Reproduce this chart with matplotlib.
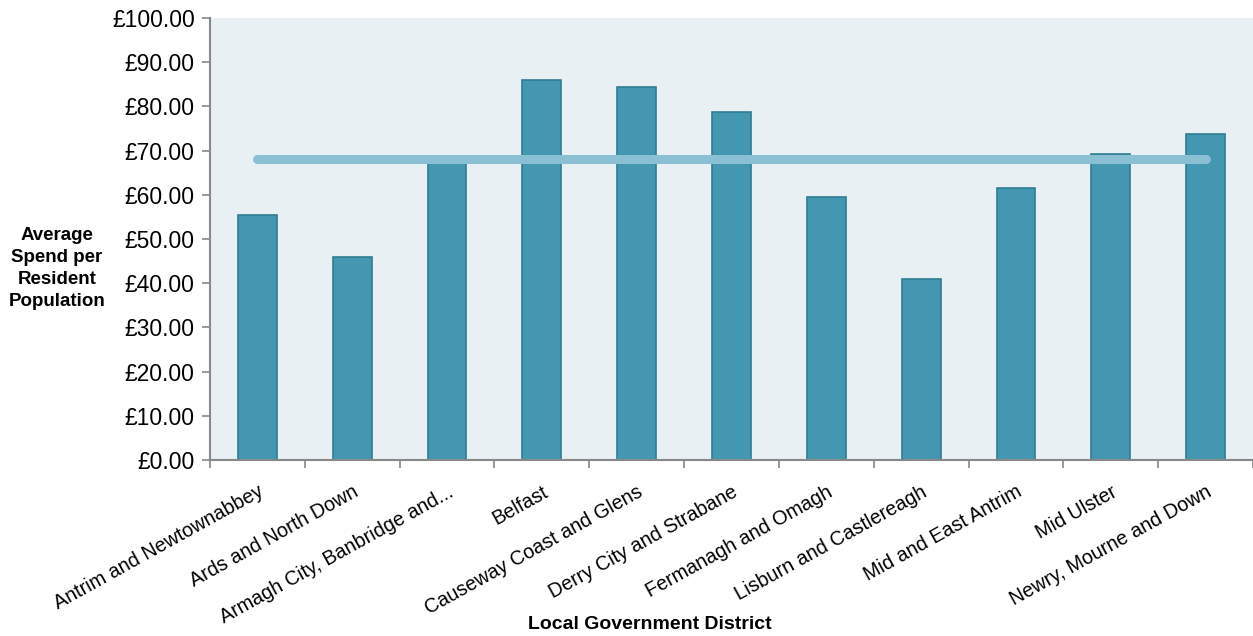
import numpy as np
import matplotlib.pyplot as plt
from matplotlib.ticker import FuncFormatter, FixedLocator

districts = [
    'Antrim and Newtownabbey',
    'Ards and North Down',
    'Armagh City, Banbridge and...',
    'Belfast',
    'Causeway Coast and Glens',
    'Derry City and Strabane',
    'Fermanagh and Omagh',
    'Lisburn and Castlereagh',
    'Mid and East Antrim',
    'Mid Ulster',
    'Newry, Mourne and Down',
]
spend = [55.4, 45.9, 67.5, 86.0, 84.3, 78.7, 59.6, 40.9, 61.6, 69.2, 73.7]
average = 68.2

plt.rcParams['font.family'] = ['Liberation Sans', 'DejaVu Sans']

fig = plt.figure(figsize=(12.53, 6.36), dpi=100)
ax = fig.add_axes([0.1676, 0.2767, 0.8324, 0.6950])
ax.set_facecolor('#e8f0f4')

x = np.arange(len(districts))
ax.bar(x, spend, width=0.41, color='#4397b0', edgecolor='#2f7d92', linewidth=1.2, zorder=2)
ax.plot([x[0], x[-1]], [average, average], color='#8bbfd4', linewidth=6.5,
        solid_capstyle='round', zorder=3)

ax.set_xlim(-0.5, len(districts) - 0.5)
ax.set_ylim(0, 100)
ax.set_yticks(np.arange(0, 101, 10))
ax.yaxis.set_major_formatter(FuncFormatter(lambda v, p: f'£{v:.2f}'))

# category labels at bar centres, tick marks on the boundaries
ax.set_xticks(x)
ax.set_xticklabels(districts, rotation=29, ha='right', rotation_mode='anchor')
ax.xaxis.set_minor_locator(FixedLocator(np.arange(-0.5, len(districts), 1.0)))
ax.tick_params(axis='x', which='major', length=0, pad=16, labelsize=14.2)
ax.tick_params(axis='x', which='minor', length=6, width=1.2, color='#888888')
ax.tick_params(axis='y', length=6, width=1.2, color='#888888', labelsize=16.5, pad=5)

for side in ['top', 'right']:
    ax.spines[side].set_visible(False)
for side in ['left', 'bottom']:
    ax.spines[side].set_color('#888888')
    ax.spines[side].set_linewidth(1.5)

fig.text(0.0455, 0.578, 'Average\nSpend per\nResident\nPopulation', ha='center', va='center',
         fontsize=13.5, fontweight='bold', linespacing=1.4)
fig.text(0.519, 0.004, 'Local Government District', ha='center', va='bottom',
         fontsize=14, fontweight='bold')

plt.savefig('out.png')
plt.close()
